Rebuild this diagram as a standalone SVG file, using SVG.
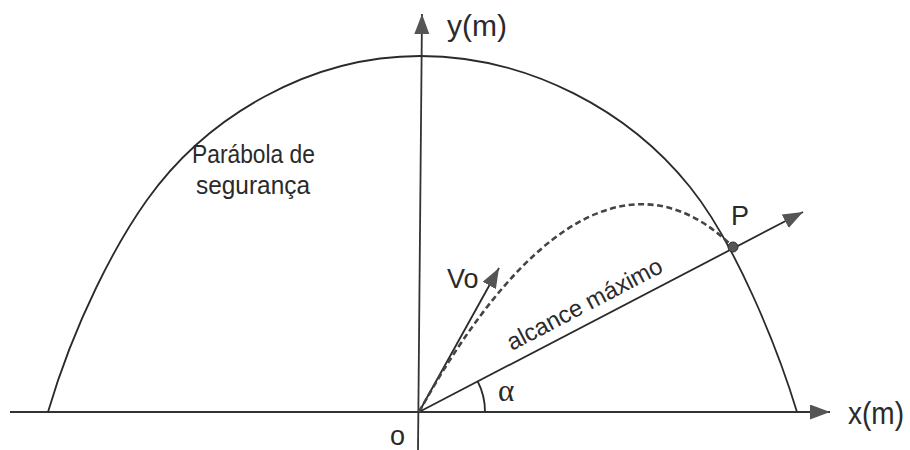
<svg xmlns="http://www.w3.org/2000/svg" width="910" height="450" viewBox="0 0 910 450">
<style>
.ln{fill:none;stroke:#2a2a2a;stroke-width:1.8}
.ax{fill:none;stroke:#333;stroke-width:1.8}
.dash{fill:none;stroke:#444;stroke-width:2.6;stroke-dasharray:6 3.5}
.t{font-family:"Liberation Sans",Arial,sans-serif;fill:#2a2a2a}
.s{font-family:"Liberation Serif","Times New Roman",serif;fill:#2a2a2a}
</style>
<defs>
<marker id="ah" markerWidth="22" markerHeight="16" refX="20" refY="7.5" orient="auto" markerUnits="userSpaceOnUse">
<path d="M0,0 L20,7.5 L0,15 Z" fill="#555"/>
</marker>
</defs>
<rect width="910" height="450" fill="#fff"/>
<g id="connectors">
<line id="x-axis" class="ax" x1="10" y1="412" x2="830" y2="412" marker-end="url(#ah)"/>
<line id="y-axis" class="ax" x1="418" y1="450" x2="422" y2="14" marker-end="url(#ah)"/>
<path id="safety-parabola" class="ln" d="M48,412 C75,320 117,242 147,200 C207,116 310,56 420,56 C530,56 630,112 690,187 C735,243 777,346 797,412"/>
<line id="range-line" class="ln" x1="419" y1="412" x2="803" y2="212" marker-end="url(#ah)"/>
<line id="v0-vector" class="ln" x1="419" y1="412" x2="499" y2="268" marker-end="url(#ah)"/>
<path id="trajectory" class="dash" d="M419,412 C530,212 640,155 733,247"/>
<path id="alpha-arc" class="ln" d="M485,412 A66,66 0 0 0 477.5,381"/>
</g>
<g id="point-P">
<circle cx="733" cy="247" r="5" fill="#555" stroke="#333" stroke-width="1"/>
<text class="t" x="731" y="225" font-size="27">P</text>
</g>
<g id="labels">
<text class="t" x="447" y="36" font-size="30">y(m)</text>
<text class="t" x="848" y="424" font-size="31" textLength="56" lengthAdjust="spacingAndGlyphs">x(m)</text>
<text class="t" x="390" y="445" font-size="27">o</text>
<text class="s" x="498" y="401" font-size="31">α</text>
<text class="t" x="447" y="288" font-size="27">Vo</text>
<text class="t" x="512" y="351" font-size="24" textLength="172" lengthAdjust="spacingAndGlyphs" transform="rotate(-27.6 512 351)">alcance máximo</text>
<text class="t" x="192" y="163" font-size="26" textLength="123" lengthAdjust="spacingAndGlyphs">Parábola de</text>
<text class="t" x="196" y="194" font-size="26" textLength="114" lengthAdjust="spacingAndGlyphs">segurança</text>
</g>
</svg>
